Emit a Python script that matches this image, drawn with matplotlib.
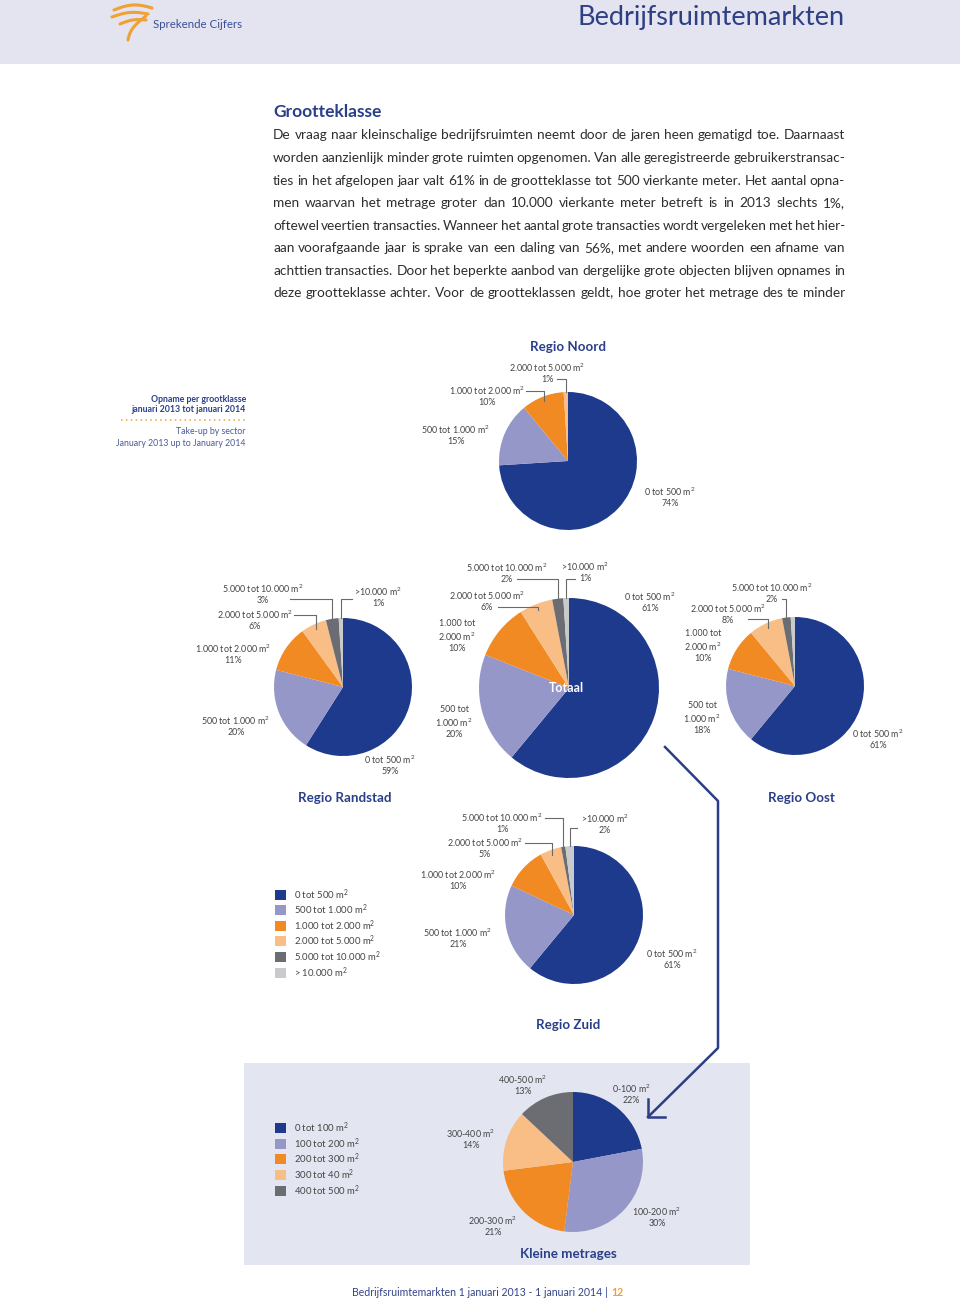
#importing required modules
import numpy as np
import matplotlib
matplotlib.use('Agg')
import matplotlib.pyplot as plt
from matplotlib.patches import Rectangle

plt.rcParams['font.family'] = ['Lato', 'DejaVu Sans']
plt.rcParams['mathtext.fontset'] = 'custom'
plt.rcParams['mathtext.rm'] = 'Lato'
plt.rcParams['mathtext.it'] = 'Lato:italic'
plt.rcParams['mathtext.bf'] = 'Lato:bold'

#page size in pixels (dpi 100)
W, H = 960, 1301

#colours
NAVY = '#1e3a8c'
LAV = '#9597c8'
ORANGE = '#f28a24'
PEACH = '#f9bd86'
DGRAY = '#6b6d72'
LGRAY = '#c9cacc'
TITLE_BLUE = '#2a3f8a'
TXT = '#444444'
BODY = '#2e2e2e'
pie_colors = [NAVY, LAV, ORANGE, PEACH, DGRAY, LGRAY]

M2 = 'm$^{\\mathregular{2}}$'

#data
klassen = ['0 tot 500 ' + M2, '500 tot 1.000 ' + M2, '1.000 tot 2.000 ' + M2,
           '2.000 tot 5.000 ' + M2, '5.000 tot 10.000 ' + M2, '>10.000 ' + M2]
legend_klassen = ['0 tot 500 ' + M2, '500 tot 1.000 ' + M2, '1.000 tot 2.000 ' + M2,
                  '2.000 tot 5.000 ' + M2, '5.000 tot 10.000 ' + M2, '> 10.000 ' + M2]
noord_vals = [74, 15, 10, 1]
randstad_vals = [59, 20, 11, 6, 3, 1]
totaal_vals = [61, 20, 10, 6, 2, 1]
oost_vals = [61, 18, 10, 8, 2, 1]
zuid_vals = [61, 21, 10, 5, 1, 2]

klein_klassen = ['0-100 ' + M2, '100-200 ' + M2, '200-300 ' + M2, '300-400 ' + M2, '400-500 ' + M2]
klein_legend = ['0 tot 100 ' + M2, '100 tot 200 ' + M2, '200 tot 300 ' + M2,
                '300 tot 40 ' + M2, '400 tot 500 ' + M2]
klein_vals = [22, 30, 21, 14, 13]

body_lines = [
    "De vraag naar kleinschalige bedrijfsruimten neemt door de jaren heen gematigd toe. Daarnaast",
    "worden aanzienlijk minder grote ruimten opgenomen. Van alle geregistreerde gebruikerstransac-",
    "ties in het afgelopen jaar valt 61% in de grootteklasse tot 500 vierkante meter. Het aantal opna-",
    "men waarvan het metrage groter dan 10.000 vierkante meter betreft is in 2013 slechts 1%,",
    "oftewel veertien transacties. Wanneer het aantal grote transacties wordt vergeleken met het hier-",
    "aan voorafgaande jaar is sprake van een daling van 56%, met andere woorden een afname van",
    "achttien transacties. Door het beperkte aanbod van dergelijke grote objecten blijven opnames in",
    "deze grootteklasse achter. Voor de grootteklassen geldt, hoe groter het metrage des te minder",
]

#layout: centre, radius, label spots (index, x, y, wrap, leader start)
pies = [
    dict(vals=noord_vals, names=klassen, center=(568, 461), r=69,
         labels=[(0, 670, 497, False, None), (1, 456, 435, False, None),
                 (2, 487, 396, False, (526, 391)), (3, 547, 373, False, (557, 379))]),
    dict(vals=randstad_vals, names=klassen, center=(343, 687), r=69,
         labels=[(0, 390, 765, False, None), (1, 236, 726, False, None),
                 (2, 233, 654, False, None), (3, 255, 620, False, (294, 615)),
                 (4, 263, 594, False, (290, 599)), (5, 378, 597, False, (352, 599))]),
    dict(vals=totaal_vals, names=klassen, center=(569, 688), r=90,
         labels=[(0, 650, 602, False, None), (1, 454, 722, True, None),
                 (2, 457, 636, True, None), (3, 487, 601, False, (498, 607)),
                 (4, 507, 573, False, (517, 579)), (5, 585, 572, False, (575, 579))]),
    dict(vals=oost_vals, names=klassen, center=(795, 686), r=69,
         labels=[(0, 878, 739, False, None), (1, 702, 718, True, None),
                 (2, 703, 646, True, None), (3, 728, 614, False, (748, 619)),
                 (4, 772, 593, False, (782, 599))]),
    dict(vals=zuid_vals, names=klassen, center=(574, 915), r=69,
         labels=[(0, 672, 959, False, None), (1, 458, 938, False, None),
                 (2, 458, 880, False, None), (3, 485, 848, False, (525, 843)),
                 (4, 502, 823, False, (545, 818)), (5, 605, 824, False, (577, 828))]),
    dict(vals=klein_vals, names=klein_klassen, center=(573, 1162), r=70,
         labels=[(0, 631, 1094, False, None), (1, 657, 1217, False, None),
                 (2, 493, 1226, False, None), (3, 471, 1139, False, None),
                 (4, 523, 1085, False, None)]),
]

fig = plt.figure(figsize=(W / 100, H / 100), dpi=100)
ax = fig.add_axes([0, 0, 1, 1])


def Y(y):
    return H - y


#header band
ax.add_patch(Rectangle((0, Y(64)), W, 64, color='#e3e4ef', lw=0, zorder=0))
ax.text(845, Y(17), 'Bedrijfsruimtemarkten', fontsize=19.5,
        color='#2d3f85', ha='right', va='center')
ax.text(153, Y(25), 'Sprekende Cijfers', fontsize=8.3, color='#3a4f9a', va='center')

#logo swooshes
t = np.linspace(0, 1, 40)
for x0, y0, x1, y1, bow in [(114, 10, 152, 8, 4), (112, 17, 148, 14, 3), (120, 24, 146, 20, 2)]:
    ax.plot(x0 + (x1 - x0) * t, Y(y0 + (y1 - y0) * t - bow * np.sin(np.pi * t)),
            color='#f0a035', lw=2.2, solid_capstyle='round')
ax.plot(146 - 18 * t - 4 * np.sin(np.pi * t), Y(16 + 24 * t), color='#f0a035', lw=2.2,
        solid_capstyle='round')

#heading and justified body text
ax.text(273, Y(112), 'Grootteklasse', fontsize=12.5, fontweight='bold', color=TITLE_BLUE,
        va='center')
renderer = fig.canvas.get_renderer()
body_y = [135, 158, 181, 203, 226, 248, 271, 293]
for line, y in zip(body_lines, body_y):
    words = line.split()
    ts = [ax.text(0, Y(y), w, fontsize=9.8, color=BODY, va='center') for w in words]
    widths = [tx.get_window_extent(renderer).width for tx in ts]
    gap = (845 - 273 - sum(widths)) / (len(words) - 1)
    x = 273
    for tx, w in zip(ts, widths):
        tx.set_x(x)
        x += w + gap

#side caption
ax.text(246, Y(400), 'Opname per grootklasse', fontsize=6.3, fontweight='bold',
        color=TITLE_BLUE, ha='right', va='center')
ax.text(246, Y(410), 'januari 2013 tot januari 2014', fontsize=6.3, fontweight='bold',
        color=TITLE_BLUE, ha='right', va='center')
ax.plot([121, 246], [Y(420), Y(420)], color='#f0a035', lw=1.1, ls=(0, (1, 2.2)))
ax.text(246, Y(432), 'Take-up by sector', fontsize=6.3, color='#4a5a95', ha='right', va='center')
ax.text(246, Y(443), 'January 2013 up to January 2014', fontsize=6.3, color='#4a5a95',
        ha='right', va='center')

#kleine metrages background box
ax.add_patch(Rectangle((244, Y(1265)), 506, 1265 - 1063, color='#e3e5f1', lw=0, zorder=0))

#pies
for p in pies:
    cx, cy = p['center']
    r = p['r']
    vals = np.array(p['vals'], dtype=float)
    ax.pie(vals, colors=pie_colors[:len(vals)], center=(cx, Y(cy)), radius=r,
           startangle=90, counterclock=False, frame=True,
           wedgeprops=dict(linewidth=0, zorder=2))
    mids = np.cumsum(vals) - vals / 2
    angles = np.deg2rad(90 - 360 * mids / vals.sum())
    for idx, lx, ly, wrap, lead in p['labels']:
        name = p['names'][idx]
        if wrap:
            name = name.replace(' tot ', ' tot\n', 1)
        ax.text(lx, Y(ly), f"{name}\n{int(p['vals'][idx])}%", fontsize=6.4, color=TXT,
                ha='center', va='center', linespacing=1.2, zorder=4)
        if lead is not None:
            f = 0.93 if p['vals'][idx] >= 5 else 1.0
            ex = cx + f * r * np.cos(angles[idx])
            ey = cy - f * r * np.sin(angles[idx])
            sx, sy = lead
            ax.plot([sx, ex, ex], [Y(sy), Y(sy), Y(ey)], color='#6a6a6a', lw=0.8, zorder=3)

#section titles
for name, x, y in [('Regio Noord', 568, 347), ('Regio Randstad', 345, 798),
                   ('Regio Oost', 801, 798), ('Regio Zuid', 568, 1025),
                   ('Kleine metrages', 568, 1254)]:
    ax.text(x, Y(y), name, fontsize=9.6, fontweight='bold', color=TITLE_BLUE,
            ha='center', va='center')
ax.text(566, Y(688), 'Totaal', fontsize=9, fontweight='bold', color='white',
        ha='center', va='center', zorder=5)

#legends
leg_y = [895, 910, 926, 941, 957, 973]
for col, lab, y in zip(pie_colors, legend_klassen, leg_y):
    ax.add_patch(Rectangle((275, Y(y) - 5), 10.5, 10.5, color=col, lw=0, zorder=3))
    ax.text(294, Y(y), lab, fontsize=6.8, color=TXT, va='center')
leg2_y = [1128, 1144, 1159, 1175, 1191]
for col, lab, y in zip(pie_colors, klein_legend, leg2_y):
    ax.add_patch(Rectangle((275, Y(y) - 5), 10.5, 10.5, color=col, lw=0, zorder=3))
    ax.text(294, Y(y), lab, fontsize=6.8, color=TXT, va='center')

#connector arrow from Totaal to kleine metrages
ax.plot([665, 718, 718, 648], [Y(747), Y(801), Y(1048), Y(1117)], color='#2c3e85', lw=1.8,
        zorder=3)
ax.plot([648, 648, 665], [Y(1099), Y(1117), Y(1117)], color='#2c3e85', lw=1.8, zorder=3)

#footer
ax.text(608, Y(1293), 'Bedrijfsruimtemarkten 1 januari 2013 - 1 januari 2014 |', fontsize=7.6,
        color='#33448a', ha='right', va='center')
ax.text(611, Y(1293), '12', fontsize=7.6, fontweight='bold', color='#f0a035', va='center')

ax.set_xlim(0, W)
ax.set_ylim(0, H)
ax.set_aspect('auto')
ax.axis('off')

fig.savefig('out.png', dpi=100, facecolor='white')
